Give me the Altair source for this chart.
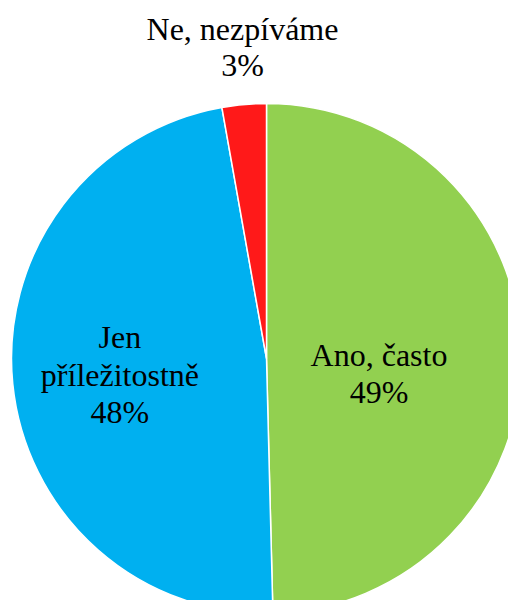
import altair as alt
import pandas as pd

categories = ["Ano, často", "Jen příležitostně", "Ne, nezpíváme"]
label_lines = ["Ano, často", "Jen|příležitostně", "Ne, nezpíváme"]
values = [49.6, 47.6, 2.8]
pct_labels = ["49%", "48%", "3%"]
order = [1, 2, 3]
colors = ["#92D050", "#00B0F0", "#FF1919"]

df = pd.DataFrame({
    "category": categories,
    "value": values,
    "label": [l + "|" + p for l, p in zip(label_lines, pct_labels)],
    "order": order,
})

base = alt.Chart(df).transform_window(
    cum="sum(value)", sort=[alt.SortField("order")]
).transform_calculate(
    start="datum.cum - datum.value",
    mid="datum.cum - datum.value / 2",
)

theta_scale = alt.Scale(domain=[0, 100], range=[0, 6.283185307])
CX, CY = 258.5, 350.5

FONT = "Liberation Serif"

arcs = base.mark_arc(radius=255, stroke="white", strokeWidth=1.5).encode(
    theta=alt.Theta("start:Q", scale=theta_scale),
    theta2="cum:Q",
    color=alt.Color("category:N", scale=alt.Scale(domain=categories, range=colors), legend=None),
    x=alt.value(CX),
    y=alt.value(CY),
)

def label_layer(cat, radius, dx, dy, lh):
    return base.transform_filter(alt.datum.category == cat).mark_text(
        radius=radius, dx=dx, dy=dy, lineBreak="|", font=FONT,
        fontSize=32, lineHeight=lh, color="black", align="center", baseline="middle",
    ).encode(
        theta=alt.Theta("mid:Q", scale=theta_scale),
        text="label:N",
        x=alt.value(CX),
        y=alt.value(CY),
    )

chart = alt.layer(
    arcs,
    label_layer("Ano, často", 113, -0.5, -0.6, 36.5),
    label_layer("Jen příležitostně", 149, 1.7, -35, 37.5),
    label_layer("Ne, nezpíváme", 313, 3.5, -17.1, 36),
).properties(
    width=500, height=592, autosize=alt.AutoSizeParams(type="none"), padding=0,
).configure_view(stroke=None)

chart.save("out.html", embed_options={"renderer": "svg", "actions": False})
